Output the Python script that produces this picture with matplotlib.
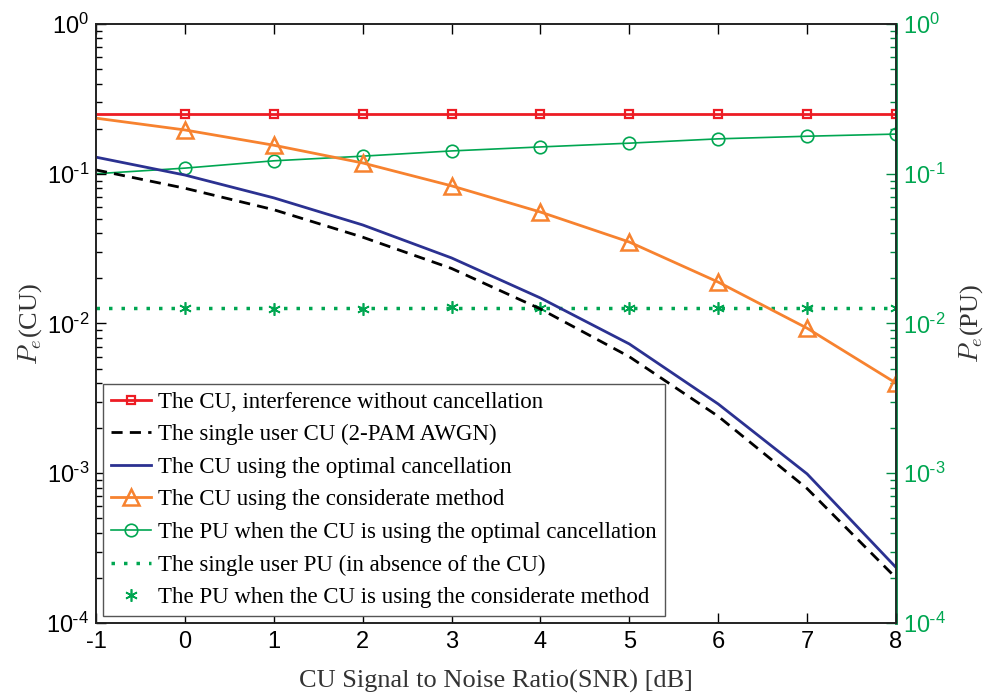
import matplotlib
matplotlib.use("Agg")
import matplotlib.pyplot as plt
from matplotlib.ticker import LogLocator, FixedLocator, FuncFormatter, NullFormatter
import math

plt.rcParams['mathtext.fontset'] = 'cm'
plt.rcParams['axes.unicode_minus'] = False

snr = [-1, 0, 1, 2, 3, 4, 5, 6, 7, 8]
cu_no_cancel = [0.25, 0.25, 0.25, 0.25, 0.25, 0.25, 0.25, 0.25, 0.25, 0.25]
cu_single = [0.106, 0.080, 0.0575, 0.0377, 0.0233, 0.0125, 0.0060, 0.0024, 0.00079, 0.00020]
cu_optimal = [0.129, 0.098, 0.069, 0.0455, 0.0274, 0.0148, 0.0073, 0.0029, 0.00099, 0.000235]
cu_considerate = [0.235, 0.196, 0.155, 0.118, 0.083, 0.0555, 0.035, 0.0189, 0.0093, 0.0040]
pu_optimal = [0.100, 0.109, 0.122, 0.131, 0.142, 0.151, 0.160, 0.171, 0.178, 0.184]
pu_single = [0.0127] * 10
pu_considerate = [0.0126, 0.0125, 0.0125, 0.0128, 0.0126, 0.0126, 0.0126, 0.0127, 0.0127]
snr_markers = [0, 1, 2, 3, 4, 5, 6, 7, 8]

labels = [
    "The CU, interference without cancellation",
    "The single user CU (2-PAM AWGN)",
    "The CU using the optimal cancellation",
    "The CU using the considerate method",
    "The PU when the CU is using the optimal cancellation",
    "The single user PU (in absence of the CU)",
    "The PU when the CU is using the considerate method",
]

RED = '#ed1c24'
ORANGE = '#f7822f'
BLUE = '#2b3191'
GREEN = '#00a651'
AXGREEN = '#008a45'

fig = plt.figure(figsize=(9.87, 6.93), dpi=100)
ax = fig.add_axes([0.0973, 0.101, 0.8105, 0.8644])
ax2 = ax.twinx()

h = []
ax.plot(snr, cu_no_cancel, color=RED, lw=2)
ax.plot(snr_markers, cu_no_cancel[1:], ls='none', marker='s', ms=6, mfc='none', mec=RED, mew=1.6)
h.append(ax.plot([], [], color=RED, lw=2, marker='s', ms=6, mfc='none', mec=RED, mew=1.6)[0])
l2, = ax.plot(snr, cu_single, color='black', lw=2, ls=(0, (4, 2.6)))
h.append(l2)
l3, = ax.plot(snr, cu_optimal, color=BLUE, lw=2)
h.append(l3)
ax.plot(snr, cu_considerate, color=ORANGE, lw=2)
ax.plot(snr_markers, cu_considerate[1:], ls='none', marker='^', ms=11, mfc='none', mec=ORANGE, mew=1.8)
h.append(ax.plot([], [], color=ORANGE, lw=2, marker='^', ms=11, mfc='none', mec=ORANGE, mew=1.8)[0])

ax2.plot(snr, pu_optimal, color=GREEN, lw=1.2)
ax2.plot(snr_markers, pu_optimal[1:], ls='none', marker='o', ms=9, mfc='none', mec=GREEN, mew=1.2)
h.append(ax2.plot([], [], color=GREEN, lw=1.2, marker='o', ms=9, mfc='none', mec=GREEN, mew=1.2)[0])
l6, = ax2.plot(snr, pu_single, color=GREEN, lw=2.5, ls=(0, (1, 2.6)))
h.append(l6)
l7, = ax2.plot(snr_markers, pu_considerate, ls='none', marker=(6, 2, 0), ms=9, color=GREEN, mew=1.2)
h.append(l7)

def fmt(v, pos):
    e = int(round(math.log10(v)))
    if e < 0:
        return r'$\mathregular{10^{\text{-}%d}}$' % (-e)
    return r'$\mathregular{10^{%d}}$' % e

for a in (ax, ax2):
    a.set_yscale('log')
    a.set_ylim(1e-4, 1)
    a.yaxis.set_major_locator(FixedLocator([1e-4, 1e-3, 1e-2, 1e-1, 1]))
    a.yaxis.set_minor_locator(LogLocator(base=10, subs=range(2, 10), numticks=20))
    a.yaxis.set_major_formatter(FuncFormatter(fmt))
    a.yaxis.set_minor_formatter(NullFormatter())
ax.set_xlim(-1, 8)
ax.set_xticks(snr)

ax.tick_params(axis='x', which='both', direction='in', top=True, bottom=True, length=7, labelsize=17, pad=6, width=1)
ax.tick_params(axis='y', which='major', direction='in', left=True, right=False, length=7, labelsize=17, width=1, pad=5)
ax.tick_params(axis='y', which='minor', direction='in', left=True, right=False, length=4, width=1)
ax2.tick_params(axis='y', which='major', direction='in', right=True, length=7, labelsize=17, colors=AXGREEN, labelcolor=GREEN, width=1, pad=5)
ax2.tick_params(axis='y', which='minor', direction='in', right=True, length=4, colors=AXGREEN, width=1)
for lab in ax.get_xticklabels() + ax.get_yticklabels() + ax2.get_yticklabels():
    lab.set_fontfamily('Liberation Sans')
for a in (ax, ax2):
    for s in a.spines.values():
        s.set_linewidth(1.2)
        s.set_color('#222222')
ax2.spines['right'].set_color(AXGREEN)
ax2.spines['right'].set_linewidth(2)

ax.set_xlabel('CU Signal to Noise Ratio(SNR) [dB]', fontfamily='Liberation Serif', fontsize=19, labelpad=12, color='#333333')
ax.set_ylabel(r'$P_e$(CU)', fontfamily='Liberation Serif', fontsize=19, labelpad=2, color='#333333')
ax2.set_ylabel(r'$P_e$(PU)', fontfamily='Liberation Serif', fontsize=19, labelpad=8, color='#333333')

leg = ax.legend(h, labels, loc='lower left', bbox_to_anchor=(0.0, 0.0), prop={'family': 'Liberation Serif', 'size': 16.5},
                frameon=True, fancybox=False, edgecolor='#555555', framealpha=1, handlelength=1.75,
                handletextpad=0.3, labelspacing=0.5, borderpad=0.35, borderaxespad=0.3)
leg.get_frame().set_linewidth(1)
leg.set_zorder(10)
ax.set_zorder(ax2.get_zorder() + 1)
ax.patch.set_visible(False)

fig.savefig('out.png', dpi=100)
